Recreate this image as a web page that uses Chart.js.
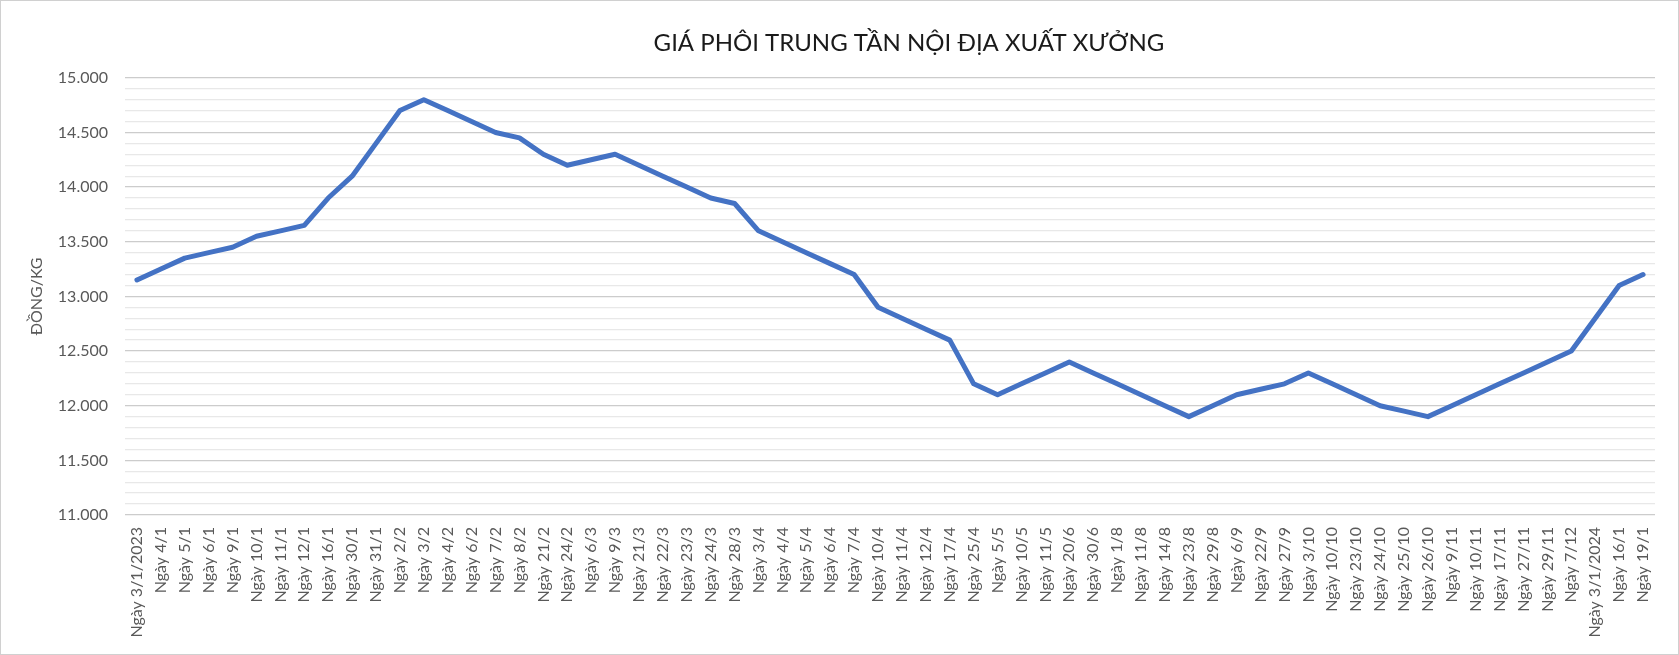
<!DOCTYPE html>
<html>
<head>
<meta charset="utf-8">
<title>Giá phôi trung tần</title>
<script src="https://cdn.jsdelivr.net/npm/chart.js@4"></script>
<style>
  html, body { margin: 0; padding: 0; background: #fff; }
  #wrap { width: 1679px; height: 655px; position: relative; }
  #chart { outline: 1px solid #d0d0d0; outline-offset: -1px; }
</style>
</head>
<body>
<div id="wrap"><canvas id="chart" width="1679" height="655"></canvas></div>
<script>
// ngày xuất xưởng
const LABELS = [
  "Ngày 3/1/2023", "Ngày 4/1", "Ngày 5/1", "Ngày 6/1", "Ngày 9/1", "Ngày 10/1",
  "Ngày 11/1", "Ngày 12/1", "Ngày 16/1", "Ngày 30/1", "Ngày 31/1", "Ngày 2/2",
  "Ngày 3/2", "Ngày 4/2", "Ngày 6/2", "Ngày 7/2", "Ngày 8/2", "Ngày 21/2",
  "Ngày 24/2", "Ngày 6/3", "Ngày 9/3", "Ngày 21/3", "Ngày 22/3", "Ngày 23/3",
  "Ngày 24/3", "Ngày 28/3", "Ngày 3/4", "Ngày 4/4", "Ngày 5/4", "Ngày 6/4",
  "Ngày 7/4", "Ngày 10/4", "Ngày 11/4", "Ngày 12/4", "Ngày 17/4", "Ngày 25/4",
  "Ngày 5/5", "Ngày 10/5", "Ngày 11/5", "Ngày 20/6", "Ngày 30/6", "Ngày 1/8",
  "Ngày 11/8", "Ngày 14/8", "Ngày 23/8", "Ngày 29/8", "Ngày 6/9", "Ngày 22/9",
  "Ngày 27/9", "Ngày 3/10", "Ngày 10/10", "Ngày 23/10", "Ngày 24/10", "Ngày 25/10",
  "Ngày 26/10", "Ngày 9/11", "Ngày 10/11", "Ngày 17/11", "Ngày 27/11", "Ngày 29/11",
  "Ngày 7/12", "Ngày 3/1/2024", "Ngày 16/1", "Ngày 19/1"
];

// giá, đồng/kg
const PRICES = [
  13150, 13250, 13350, 13400, 13450, 13550,
  13600, 13650, 13900, 14100, 14400, 14700,
  14800, 14700, 14600, 14500, 14450, 14300,
  14200, 14250, 14300, 14200, 14100, 14000,
  13900, 13850, 13600, 13500, 13400, 13300,
  13200, 12900, 12800, 12700, 12600, 12200,
  12100, 12200, 12300, 12400, 12300, 12200,
  12100, 12000, 11900, 12000, 12100, 12150,
  12200, 12300, 12200, 12100, 12000, 11950,
  11900, 12000, 12100, 12200, 12300, 12400,
  12500, 12800, 13100, 13200
];

// nhãn trục tung (các vạch chính), vạch phụ mỗi 100
const Y_TICKS = [11000, 11500, 12000, 12500, 13000, 13500, 14000, 14500, 15000];
const Y_MIN = 11000;
const Y_MAX = 15000;
const Y_MINOR_STEP = 100;

const FONT = "Lato, 'Liberation Sans', sans-serif";

function fmtVN(v) {
  return String(v).replace(/\B(?=(\d{3})+(?!\d))/g, ".");
}

// dịch tiêu đề sang phải như bản gốc
const titleShift = {
  id: "titleShift",
  afterLayout(chart) {
    if (chart.titleBlock) {
      chart.titleBlock.left = 139;
      chart.titleBlock.right = 1679;
    }
  }
};

new Chart(document.getElementById("chart"), {
  type: "line",
  data: {
    labels: LABELS,
    datasets: [{
      label: "Giá",
      data: PRICES,
      borderColor: "#4472C4",
      borderWidth: 5,
      borderJoinStyle: "round",
      borderCapStyle: "round",
      pointRadius: 0,
      tension: 0,
      fill: false
    }]
  },
  options: {
    responsive: false,
    devicePixelRatio: 1,
    animation: false,
    events: [],
    layout: { padding: { left: 0, right: 24, top: 0, bottom: 0 } },
    plugins: {
      legend: { display: false },
      tooltip: { enabled: false },
      title: {
        display: true,
        text: "GIÁ PHÔI TRUNG TẦN NỘI ĐỊA XUẤT XƯỞNG",
        color: "#1a1a1a",
        font: { family: FONT, size: 24, weight: "normal" },
        padding: { top: 29, bottom: 20 }
      }
    },
    scales: {
      x: {
        type: "category",
        offset: true,
        grid: { display: false, drawTicks: false },
        border: { display: false },
        ticks: {
          autoSkip: false,
          minRotation: 90,
          maxRotation: 90,
          padding: 12,
          color: "#595959",
          font: { family: FONT, size: 16 }
        },
        afterFit(scale) { scale.height = 140; }
      },
      y: {
        min: Y_MIN,
        max: Y_MAX,
        border: { display: false },
        grid: {
          drawTicks: false,
          lineWidth: 1.3,
          color: (ctx) => Y_TICKS.includes(ctx.tick.value) ? "#cccccc" : "#e8e8e8"
        },
        ticks: {
          stepSize: Y_MINOR_STEP,
          autoSkip: false,
          padding: 17,
          color: "#595959",
          font: { family: FONT, size: 16 },
          callback: (v) => Y_TICKS.includes(v) ? fmtVN(v) : ""
        },
        title: {
          display: true,
          text: "ĐỒNG/KG",
          color: "#595959",
          font: { family: FONT, size: 16 },
          padding: { top: 27, bottom: 0 }
        },
        afterFit(scale) { scale.width = 125; }
      }
    }
  },
  plugins: [titleShift]
});
</script>
</body>
</html>
